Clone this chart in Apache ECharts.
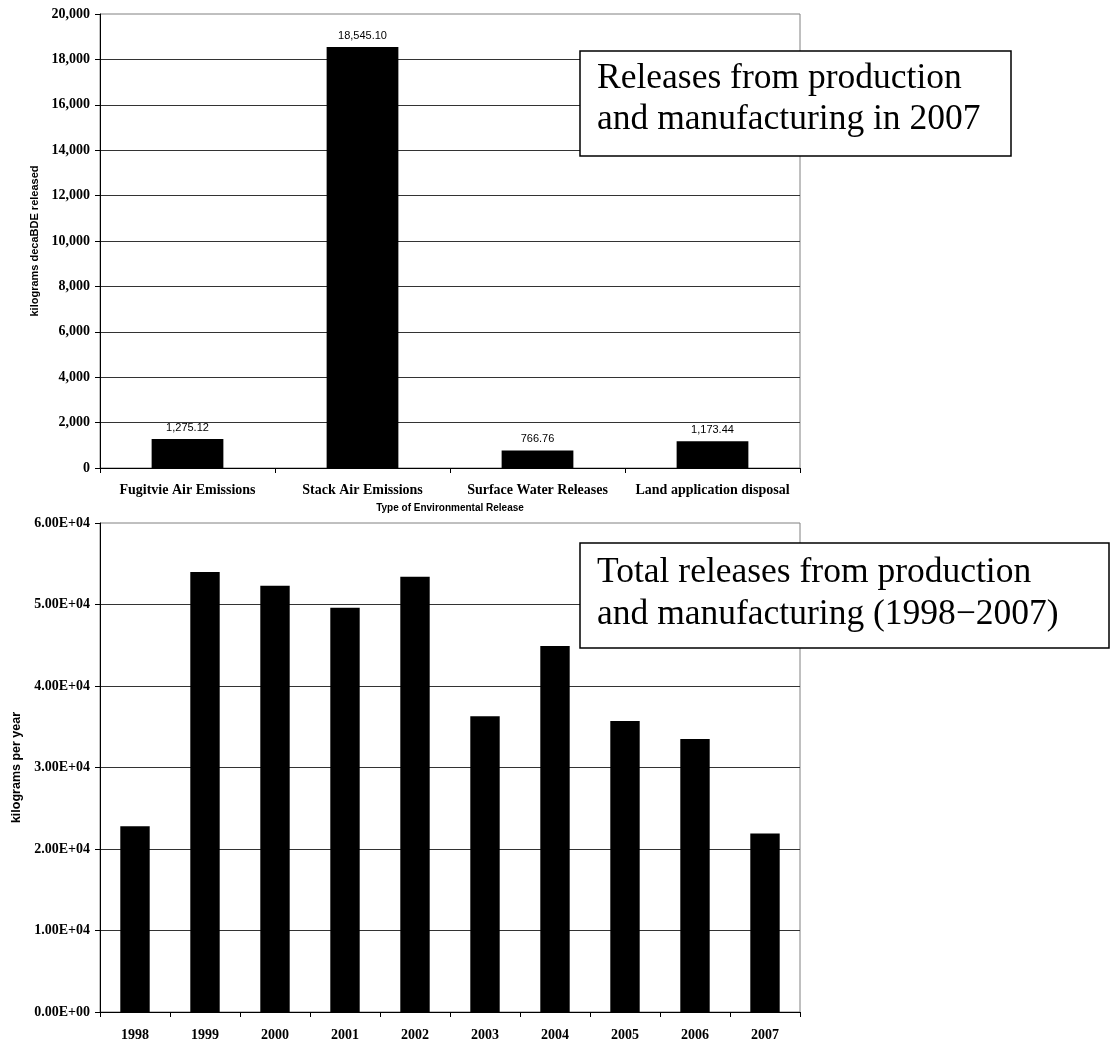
<!DOCTYPE html>
<html>
<head>
<meta charset="utf-8">
<script src="https://cdn.jsdelivr.net/npm/echarts@6/dist/echarts.min.js"></script>
<style>html,body{margin:0;padding:0;background:#fff;}#c{width:1111px;height:1051px;}</style>
</head>
<body>
<div id="c"></div>
<script>
// Top chart: releases by type in 2007
var releaseTypes = ['Fugitvie Air Emissions', 'Stack Air Emissions', 'Surface Water Releases', 'Land application disposal'];
var releaseValues = [1275.12, 18545.10, 766.76, 1173.44];
// Bottom chart: total releases per year
var years = ['1998', '1999', '2000', '2001', '2002', '2003', '2004', '2005', '2006', '2007'];
var yearTotals = [22800, 54000, 52300, 49600, 53400, 36300, 44900, 35700, 33500, 21900];

var chart = echarts.init(document.getElementById('c'), null, {renderer: 'canvas'});

var serifBold = {fontFamily: 'Liberation Serif', fontWeight: 'bold', fontSize: 14, color: '#000'};
function expFmt(v) {
  var s = Number(v).toExponential(2).toUpperCase();
  return s.replace(/E([+-])(\d)$/, 'E$10$2');
}
var axisLineBlack = {show: true, lineStyle: {color: '#000', width: 1}};
var tickBlack = {show: true, length: 5, lineStyle: {color: '#000', width: 1}};
var splitBlack = {show: true, showMaxLine: false, lineStyle: {color: '#333', width: 1}};

var option = {
  animation: false,
  backgroundColor: '#fff',
  grid: [
    {left: 100, top: 14, width: 700, height: 454, containLabel: false, outerBoundsMode: 'none', show: true, borderColor: '#808080', borderWidth: 1, backgroundColor: 'transparent'},
    {left: 100, top: 523, width: 700, height: 489, containLabel: false, outerBoundsMode: 'none', show: true, borderColor: '#808080', borderWidth: 1, backgroundColor: 'transparent'}
  ],
  xAxis: [
    {
      type: 'category', gridIndex: 0, data: releaseTypes,
      axisLine: axisLineBlack, axisTick: tickBlack,
      axisLabel: Object.assign({margin: 15, interval: 0}, serifBold),
      name: 'Type of Environmental Release', nameLocation: 'middle', nameGap: 35,
      nameTextStyle: {fontFamily: 'Liberation Sans', fontWeight: 'bold', fontSize: 10, color: '#000'}
    },
    {
      type: 'category', gridIndex: 1, data: years,
      axisLine: axisLineBlack, axisTick: tickBlack,
      axisLabel: Object.assign({margin: 16, interval: 0}, serifBold)
    }
  ],
  yAxis: [
    {
      type: 'value', gridIndex: 0, min: 0, max: 20000, interval: 2000,
      axisLine: axisLineBlack, axisTick: tickBlack, splitLine: splitBlack,
      axisLabel: Object.assign({margin: 10, formatter: function (v) { return Number(v).toLocaleString('en-US'); }}, serifBold),
      name: 'kilograms decaBDE released', nameLocation: 'middle', nameGap: 57, nameRotate: 90,
      nameTextStyle: {fontFamily: 'Liberation Sans', fontWeight: 'bold', fontSize: 11, color: '#000'}
    },
    {
      type: 'value', gridIndex: 1, min: 0, max: 60000, interval: 10000,
      axisLine: axisLineBlack, axisTick: tickBlack, splitLine: splitBlack,
      axisLabel: Object.assign({margin: 10, formatter: expFmt}, serifBold),
      name: 'kilograms per year', nameLocation: 'middle', nameGap: 77, nameRotate: 90,
      nameTextStyle: {fontFamily: 'Liberation Sans', fontWeight: 'bold', fontSize: 12.5, color: '#000'}
    }
  ],
  series: [
    {
      type: 'bar', xAxisIndex: 0, yAxisIndex: 0, data: releaseValues, barWidth: '41%',
      itemStyle: {color: '#000'},
      label: {
        show: true, position: 'top', distance: 6,
        fontFamily: 'Liberation Sans', fontSize: 11, color: '#000',
        formatter: function (p) { return Number(p.value).toLocaleString('en-US', {minimumFractionDigits: 2, maximumFractionDigits: 2}); }
      }
    },
    {
      type: 'bar', xAxisIndex: 1, yAxisIndex: 1, data: yearTotals, barWidth: '42%',
      itemStyle: {color: '#000'}
    }
  ],
  graphic: [
    {type: 'rect', z: 100, shape: {x: 580, y: 51, width: 431, height: 105}, style: {fill: '#fff', stroke: '#000', lineWidth: 1.5}},
    {type: 'text', z: 101, x: 597, y: 79, style: {text: 'Releases from production', fontFamily: 'Liberation Serif', fontSize: 35.5, fill: '#000', verticalAlign: 'middle', align: 'left'}},
    {type: 'text', z: 101, x: 597, y: 120, style: {text: 'and manufacturing in 2007', fontFamily: 'Liberation Serif', fontSize: 35.5, fill: '#000', verticalAlign: 'middle', align: 'left'}},
    {type: 'rect', z: 100, shape: {x: 580, y: 543, width: 529, height: 105}, style: {fill: '#fff', stroke: '#000', lineWidth: 1.5}},
    {type: 'text', z: 101, x: 597, y: 573, style: {text: 'Total releases from production', fontFamily: 'Liberation Serif', fontSize: 35.5, fill: '#000', verticalAlign: 'middle', align: 'left'}},
    {type: 'text', z: 101, x: 597, y: 615, style: {text: 'and manufacturing (1998\u22122007)', fontFamily: 'Liberation Serif', fontSize: 35.5, fill: '#000', verticalAlign: 'middle', align: 'left'}}
  ]
};
chart.setOption(option);
</script>
</body>
</html>
